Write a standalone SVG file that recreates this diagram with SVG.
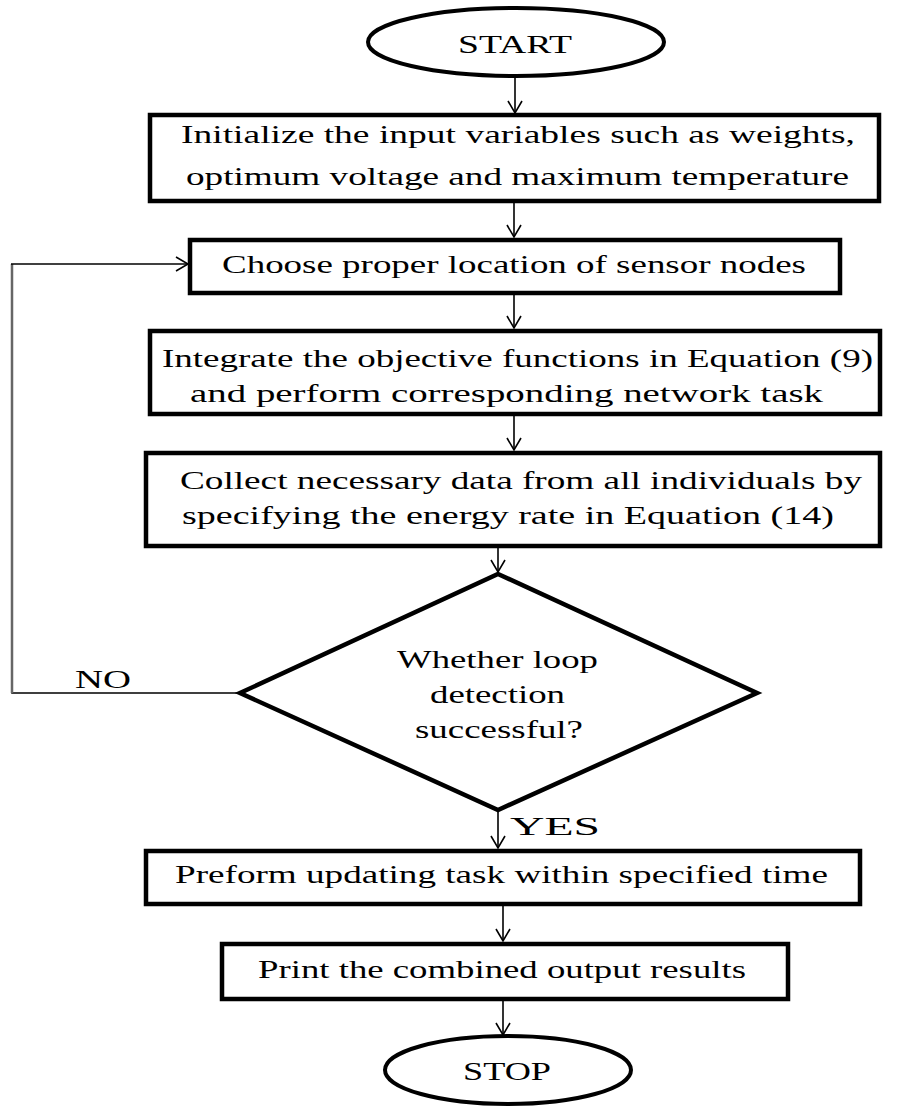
<svg xmlns="http://www.w3.org/2000/svg" width="917" height="1117" viewBox="0 0 917 1117">
<defs>
<marker id="arr" markerWidth="20" markerHeight="20" refX="14" refY="8" orient="auto" markerUnits="userSpaceOnUse">
<path d="M2,1 L14,8 L2,15" fill="none" stroke="#000" stroke-width="1.6"/>
</marker>
<style>
.box{fill:#fff;stroke:#000;stroke-width:4.5}
.t{font-family:"Liberation Serif","Times New Roman",serif;font-size:26px;fill:#000}
.c{stroke:#000;stroke-width:1.6;fill:none}
</style>
</defs>
<rect width="917" height="1117" fill="#fff"/>
<g id="connectors">
<line class="c" x1="515" y1="77" x2="515" y2="113" marker-end="url(#arr)"/>
<line class="c" x1="514" y1="202" x2="514" y2="237" marker-end="url(#arr)"/>
<line class="c" x1="514" y1="294" x2="514" y2="328" marker-end="url(#arr)"/>
<line class="c" x1="514" y1="415" x2="514" y2="450" marker-end="url(#arr)"/>
<line class="c" x1="498" y1="547" x2="498" y2="572" marker-end="url(#arr)"/>
<line class="c" x1="498" y1="810" x2="498" y2="848" marker-end="url(#arr)"/>
<line class="c" x1="503" y1="906" x2="503" y2="941" marker-end="url(#arr)"/>
<line class="c" x1="503" y1="1000" x2="503" y2="1035" marker-end="url(#arr)"/>
<polyline fill="none" stroke="#000" stroke-width="1.6" points="240,693 12,693 12,264"/>
<line x1="12" y1="264" x2="12" y2="693" stroke="#666" stroke-width="2.5"/>
<line class="c" x1="11" y1="264" x2="188" y2="264" marker-end="url(#arr)"/>
<text class="t" x="75" y="688" textLength="56" lengthAdjust="spacingAndGlyphs">NO</text>
<text class="t" x="510" y="835" textLength="90" lengthAdjust="spacingAndGlyphs">YES</text>
</g>
<g id="start">
<ellipse cx="516" cy="42" rx="148" ry="34" fill="#fff" stroke="#000" stroke-width="4"/>
<text class="t" x="458" y="53" textLength="114" lengthAdjust="spacingAndGlyphs">START</text>
</g>
<g id="init">
<rect class="box" x="150" y="115" width="729" height="86"/>
<text class="t" x="181" y="143" textLength="674" lengthAdjust="spacingAndGlyphs">Initialize the input variables such as weights,</text>
<text class="t" x="186" y="185" textLength="663" lengthAdjust="spacingAndGlyphs">optimum voltage and maximum temperature</text>
</g>
<g id="choose">
<rect class="box" x="190" y="240" width="650" height="53"/>
<text class="t" x="222" y="273" textLength="584" lengthAdjust="spacingAndGlyphs">Choose proper location of sensor nodes</text>
</g>
<g id="integrate">
<rect class="box" x="150" y="331" width="730" height="83"/>
<text class="t" x="162" y="367" textLength="711" lengthAdjust="spacingAndGlyphs">Integrate the objective functions in Equation (9)</text>
<text class="t" x="190" y="402" textLength="633" lengthAdjust="spacingAndGlyphs">and perform corresponding network task</text>
</g>
<g id="collect">
<rect class="box" x="146" y="453" width="734" height="93"/>
<text class="t" x="180" y="489" textLength="682" lengthAdjust="spacingAndGlyphs">Collect necessary data from all individuals by</text>
<text class="t" x="182" y="524" textLength="652" lengthAdjust="spacingAndGlyphs">specifying the energy rate in Equation (14)</text>
</g>
<g id="decision">
<polygon points="498,574 757,693 498,810 240,693" fill="#fff" stroke="#000" stroke-width="4.5" stroke-linejoin="miter"/>
<text class="t" x="397" y="668" textLength="201" lengthAdjust="spacingAndGlyphs">Whether loop</text>
<text class="t" x="430" y="703" textLength="135" lengthAdjust="spacingAndGlyphs">detection</text>
<text class="t" x="415" y="738" textLength="168" lengthAdjust="spacingAndGlyphs">successful?</text>
</g>
<g id="update">
<rect class="box" x="146" y="851" width="714" height="53"/>
<text class="t" x="175" y="883" textLength="653" lengthAdjust="spacingAndGlyphs">Preform updating task within specified time</text>
</g>
<g id="print">
<rect class="box" x="222" y="944" width="566" height="55"/>
<text class="t" x="258" y="978" textLength="488" lengthAdjust="spacingAndGlyphs">Print the combined output results</text>
</g>
<g id="stop">
<ellipse cx="508" cy="1070" rx="123" ry="34" fill="#fff" stroke="#000" stroke-width="4"/>
<text class="t" x="463" y="1080" textLength="88" lengthAdjust="spacingAndGlyphs">STOP</text>
</g>
</svg>
